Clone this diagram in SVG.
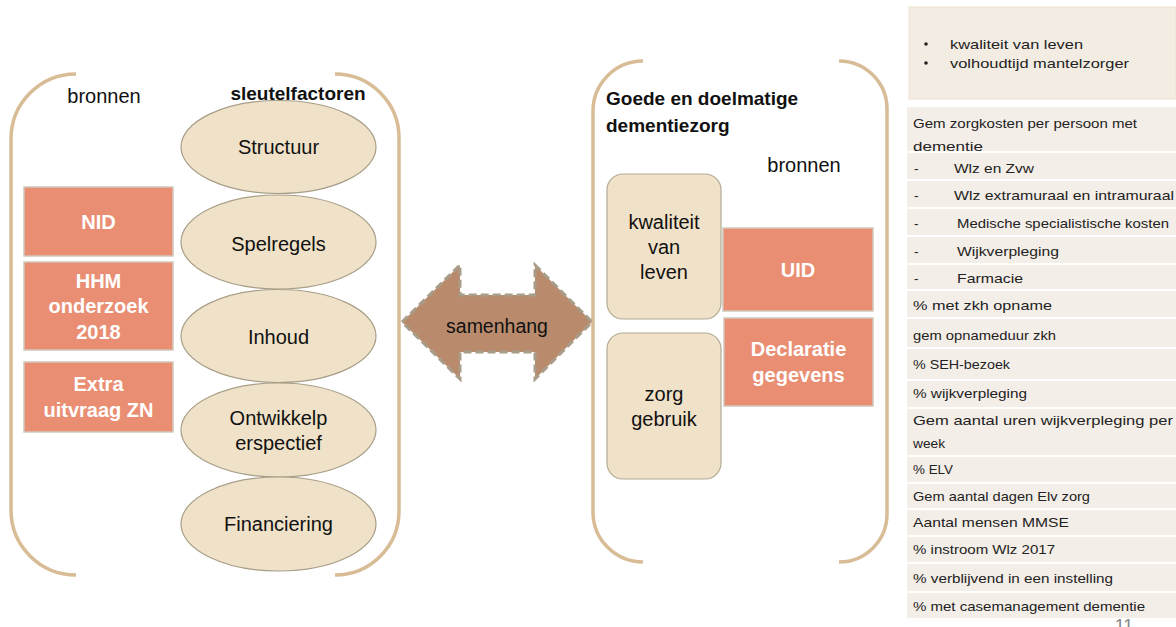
<svg xmlns="http://www.w3.org/2000/svg" width="1176" height="627" viewBox="0 0 1176 627">
<style>
.brk{fill:none;stroke:#D8BC96;stroke-width:3.5}
.ell{fill:#F0E2C8;stroke:#A89E88;stroke-width:1.2}
.sal{fill:#E98E73;stroke:#CFC8BA;stroke-width:1.5}
.rr{fill:#F0E2C8;stroke:#B3AA96;stroke-width:1.2}
.t{font-family:"Liberation Sans",Arial,sans-serif;fill:#111;text-anchor:middle;dominant-baseline:central}
.n{font-size:20px}
.w{font-size:20px;font-weight:bold;fill:#fff}
.b{font-weight:bold}
.row{fill:#F4EEE8}
.tt{font-family:"Liberation Sans",Arial,sans-serif;font-size:13.5px;fill:#222;dominant-baseline:central}
</style>
<rect width="1176" height="627" fill="#fff"/>

<g id="brackets">
<path class="brk" d="M76,74 A65,65 0 0 0 11,139 L11,510 A65,65 0 0 0 76,575"/>
<path class="brk" d="M335,74 A64,64 0 0 1 399,138 L399,511 A64,64 0 0 1 335,575"/>
<path class="brk" d="M643,61 A50,50 0 0 0 593,111 L593,512 A50,50 0 0 0 643,562"/>
<path class="brk" d="M839,61 A48,48 0 0 1 887,109 L887,514 A48,48 0 0 1 839,562"/>
</g>

<g id="structuur"><ellipse class="ell" cx="278.5" cy="147" rx="97.5" ry="46.5"/><text class="t n" x="278.5" y="147">Structuur</text></g>
<g id="spelregels"><ellipse class="ell" cx="278.5" cy="242" rx="97.5" ry="47"/><text class="t n" x="278.5" y="244">Spelregels</text></g>
<g id="inhoud"><ellipse class="ell" cx="278.5" cy="336" rx="97.5" ry="46.5"/><text class="t n" x="278.5" y="337">Inhoud</text></g>
<g id="ontwikkelperspectief"><ellipse class="ell" cx="278.5" cy="430" rx="97.5" ry="47"/><text class="t n" x="278.5" y="418">Ontwikkelp</text><text class="t n" x="278.5" y="443">erspectief</text></g>
<g id="financiering"><ellipse class="ell" cx="278.5" cy="524" rx="97.5" ry="47"/><text class="t n" x="278.5" y="524">Financiering</text></g>

<g id="labels">
<text class="t n" x="104" y="96">bronnen</text>
<text class="t b" x="298" y="93" style="font-size:19px">sleutelfactoren</text>
<text class="t b" x="606" y="98" style="font-size:19px;text-anchor:start">Goede en doelmatige</text>
<text class="t b" x="606" y="125" style="font-size:19px;text-anchor:start">dementiezorg</text>
<text class="t n" x="804" y="165">bronnen</text>
</g>

<g id="nid"><rect class="sal" x="24" y="187" width="149" height="69"/><text class="t w" x="98.5" y="222">NID</text></g>
<g id="hhm"><rect class="sal" x="24" y="262" width="149" height="88"/><text class="t w" x="98.5" y="281">HHM</text><text class="t w" x="98.5" y="306">onderzoek</text><text class="t w" x="98.5" y="332">2018</text></g>
<g id="extra"><rect class="sal" x="24" y="362" width="149" height="70"/><text class="t w" x="98.5" y="384">Extra</text><text class="t w" x="98.5" y="410">uitvraag ZN</text></g>

<g id="connectors">
<g id="samenhang">
<polygon points="402,322 460,265 460,295 535,295 535,265 592,322 535,379 535,352 460,352 460,379" fill="#B98B6C" stroke="#A79D88" stroke-width="3" stroke-dasharray="8,4" stroke-linejoin="miter"/>
<text class="t" x="497" y="326" style="font-size:19.5px">samenhang</text>
</g>
</g>

<g id="kwaliteit"><rect class="rr" x="607" y="174" width="114" height="145" rx="16"/><text class="t n" x="664" y="222">kwaliteit</text><text class="t n" x="664" y="247">van</text><text class="t n" x="664" y="272">leven</text></g>
<g id="zorggebruik"><rect class="rr" x="607" y="333" width="114" height="146" rx="16"/><text class="t n" x="664" y="394">zorg</text><text class="t n" x="664" y="419">gebruik</text></g>
<g id="uid"><rect class="sal" x="723" y="228" width="150" height="83"/><text class="t w" x="798" y="270">UID</text></g>
<g id="declaratie"><rect class="sal" x="724" y="318" width="149" height="88"/><text class="t w" x="798.5" y="349">Declaratie</text><text class="t w" x="798.5" y="375">gegevens</text></g>

<g id="indicatoren">
<rect x="909" y="7" width="267" height="92" fill="#F3ECE2" stroke="#EDE2D0" stroke-width="1"/>
<circle cx="926" cy="44" r="1.8" fill="#222"/>
<circle cx="926" cy="63" r="1.8" fill="#222"/>
<text class="tt" x="950" y="44" textLength="133" lengthAdjust="spacingAndGlyphs">kwaliteit van leven</text>
<text class="tt" x="950" y="63" textLength="179" lengthAdjust="spacingAndGlyphs">volhoudtijd mantelzorger</text>

<rect class="row" x="907" y="107" width="269" height="44"/>
<rect class="row" x="907" y="153" width="269" height="26"/>
<rect class="row" x="907" y="181" width="269" height="26"/>
<rect class="row" x="907" y="209" width="269" height="26"/>
<rect class="row" x="907" y="237" width="269" height="26"/>
<rect class="row" x="907" y="265" width="269" height="24"/>
<rect class="row" x="907" y="291" width="269" height="26"/>
<rect class="row" x="907" y="319" width="269" height="28"/>
<rect class="row" x="907" y="349" width="269" height="30"/>
<rect class="row" x="907" y="381" width="269" height="26"/>
<rect class="row" x="907" y="409" width="269" height="46"/>
<rect class="row" x="907" y="457" width="269" height="25"/>
<rect class="row" x="907" y="484" width="269" height="24"/>
<rect class="row" x="907" y="510" width="269" height="25"/>
<rect class="row" x="907" y="537" width="269" height="25"/>
<rect class="row" x="907" y="564" width="269" height="27"/>
<rect class="row" x="907" y="593" width="269" height="25"/>

<text class="tt" x="913" y="123" textLength="224" lengthAdjust="spacingAndGlyphs">Gem zorgkosten per persoon met</text>
<text class="tt" x="913" y="146" textLength="70" lengthAdjust="spacingAndGlyphs">dementie</text>
<text class="tt" x="914" y="168">-</text><text class="tt" x="954" y="168" textLength="80" lengthAdjust="spacingAndGlyphs">Wlz en Zvw</text>
<text class="tt" x="914" y="195">-</text><text class="tt" x="954" y="195" textLength="220" lengthAdjust="spacingAndGlyphs">Wlz extramuraal en intramuraal</text>
<text class="tt" x="914" y="223">-</text><text class="tt" x="957" y="223" textLength="212" lengthAdjust="spacingAndGlyphs">Medische specialistische kosten</text>
<text class="tt" x="914" y="251">-</text><text class="tt" x="957" y="251" textLength="102" lengthAdjust="spacingAndGlyphs">Wijkverpleging</text>
<text class="tt" x="914" y="278">-</text><text class="tt" x="957" y="278" textLength="66" lengthAdjust="spacingAndGlyphs">Farmacie</text>
<text class="tt" x="913" y="305" textLength="139" lengthAdjust="spacingAndGlyphs">% met zkh opname</text>
<text class="tt" x="913" y="335" textLength="143" lengthAdjust="spacingAndGlyphs">gem opnameduur zkh</text>
<text class="tt" x="913" y="364" textLength="97" lengthAdjust="spacingAndGlyphs">% SEH-bezoek</text>
<text class="tt" x="913" y="393" textLength="114" lengthAdjust="spacingAndGlyphs">% wijkverpleging</text>
<text class="tt" x="913" y="420" textLength="260" lengthAdjust="spacingAndGlyphs">Gem aantal uren wijkverpleging per</text>
<text class="tt" x="913" y="443" textLength="32" lengthAdjust="spacingAndGlyphs">week</text>
<text class="tt" x="913" y="469" textLength="40" lengthAdjust="spacingAndGlyphs">% ELV</text>
<text class="tt" x="913" y="496" textLength="177" lengthAdjust="spacingAndGlyphs">Gem aantal dagen Elv zorg</text>
<text class="tt" x="913" y="522" textLength="156" lengthAdjust="spacingAndGlyphs">Aantal mensen MMSE</text>
<text class="tt" x="913" y="549" textLength="142" lengthAdjust="spacingAndGlyphs">% instroom Wlz 2017</text>
<text class="tt" x="913" y="578" textLength="200" lengthAdjust="spacingAndGlyphs">% verblijvend in een instelling</text>
<text class="tt" x="913" y="606" textLength="232" lengthAdjust="spacingAndGlyphs">% met casemanagement dementie</text>
</g>

<text x="1124" y="632" style="font-family:'Liberation Sans',Arial,sans-serif;font-size:18px;fill:#888;text-anchor:middle">11</text>
</svg>
